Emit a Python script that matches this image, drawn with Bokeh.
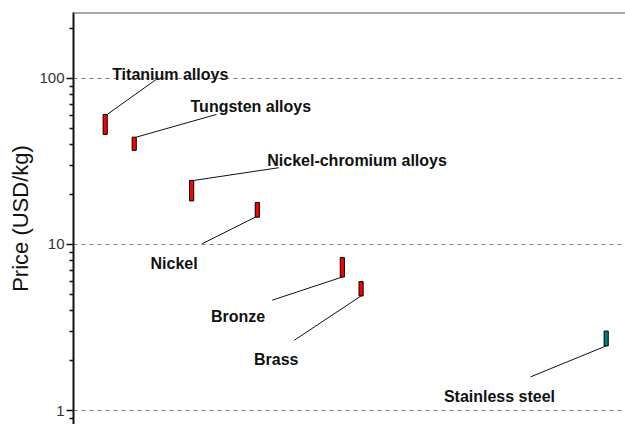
from bokeh.plotting import figure
from bokeh.models import FixedTicker, PrintfTickFormatter, Range1d, Span, ColumnDataSource
from bokeh.embed import file_html
from bokeh.resources import INLINE
from bokeh.core.properties import value

# ---- data ----
materials = ["Titanium alloys", "Tungsten alloys", "Nickel-chromium alloys",
             "Nickel", "Bronze", "Brass", "Stainless steel"]
x_pos = [5.74, 11.0, 21.4, 33.3, 48.7, 52.1, 96.5]
price_low = [46.0, 36.9, 18.3, 14.6, 6.37, 4.90, 2.45]
price_high = [60.7, 44.3, 24.3, 17.9, 8.34, 5.98, 3.01]
bar_colors = ["#ff0000", "#ff0000", "#ff0000", "#ff0000", "#ff0000", "#ff0000", "#008080"]

# label anchor (left, baseline) and leader end points, in data coordinates
label_x = [7.0, 21.2, 35.1, 13.95, 24.9, 32.7, 67.1]
label_y = [105.0, 67.8, 32.1, 7.71, 3.70, 2.03, 1.22]
leader_end_x = [15.16, 25.9, 37.2, 23.3, 36.0, 40.0, 82.8]
leader_end_y = [99.6, 60.7, 29.0, 10.1, 4.62, 2.65, 1.595]
leader_from = ["top-right", "top-right", "top-right", "bottom-left", "bottom", "bottom", "bottom"]

major_ticks = [1, 10, 100]
minor_ticks = [0.9, 2, 3, 4, 5, 6, 7, 8, 9, 20, 30, 40, 50, 60, 70, 80, 90, 200]

bar_w = 0.75
y_lo, y_hi = 0.824, 249.5

p = figure(width=625, height=424, y_axis_type="log",
           x_range=Range1d(0, 100), y_range=Range1d(y_lo, y_hi),
           x_axis_location=None, output_backend="svg", toolbar_location=None,
           min_border_left=73, min_border_top=12, min_border_right=0, min_border_bottom=0)
p.outline_line_color = None
p.background_fill_color = "white"
p.border_fill_color = "white"
p.xgrid.visible = False

ax = p.yaxis[0]
ax.ticker = FixedTicker(ticks=major_ticks, minor_ticks=minor_ticks)
ax.formatter = PrintfTickFormatter(format="%d")
ax.major_tick_out = 7
ax.major_tick_in = 0
ax.minor_tick_out = 4
ax.minor_tick_in = 0
ax.axis_line_width = 2
ax.axis_line_color = "#111111"
ax.major_tick_line_color = "#111111"
ax.minor_tick_line_color = "#111111"
ax.major_tick_line_width = 1.5
ax.minor_tick_line_width = 1.5
ax.major_label_text_font = "Liberation Sans"
ax.major_label_text_font_size = "15px"
ax.major_label_text_color = "#333333"
ax.major_label_standoff = 2
ax.axis_label = "Price (USD/kg)"
ax.axis_label_text_font = "Liberation Sans"
ax.axis_label_text_font_size = "22px"
ax.axis_label_text_font_style = "normal"
ax.axis_label_text_color = "#111111"
ax.axis_label_standoff = 3

p.ygrid.grid_line_color = "#808080"
p.ygrid.grid_line_dash = "4 4"
p.ygrid.grid_line_width = 1

# top border
p.add_layout(Span(location=y_hi, dimension="width", line_color="#555555", line_width=2))

# bars
src = ColumnDataSource(dict(x=x_pos, lo=price_low, hi=price_high, c=bar_colors))
p.vbar(x="x", bottom="lo", top="hi", width=bar_w, fill_color="c",
       line_color="black", line_width=1, source=src)

# leader lines
xs, ys = [], []
for i, mode in enumerate(leader_from):
    if mode == "top-right":
        sx, sy = x_pos[i] + bar_w / 2, price_high[i]
    elif mode == "bottom-left":
        sx, sy = x_pos[i] - bar_w / 2, price_low[i]
    else:
        sx, sy = x_pos[i], price_low[i]
    xs.append([sx, leader_end_x[i]])
    ys.append([sy, leader_end_y[i]])
p.multi_line(xs=xs, ys=ys, line_color="#111111", line_width=1)

# labels
p.text(x=label_x, y=label_y, text=materials, text_font=value("Liberation Sans"),
       text_font_style="bold", text_font_size="16px", text_color="#111111",
       text_baseline="alphabetic", text_align="left")

open("out.html", "w").write(file_html(p, INLINE))
